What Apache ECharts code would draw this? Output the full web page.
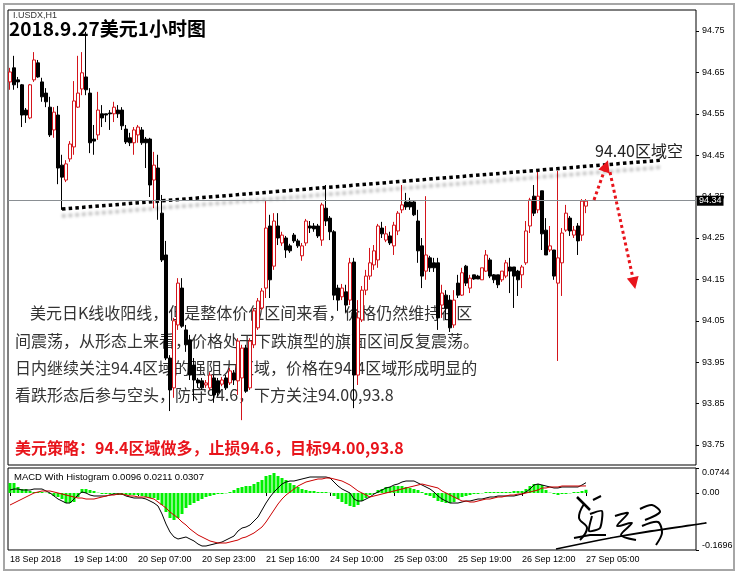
<!DOCTYPE html>
<html>
<head>
<meta charset="utf-8">
<script src="https://cdn.jsdelivr.net/npm/echarts@6/dist/echarts.min.js"></script>
<style>
  html, body { margin: 0; padding: 0; background: #fff; }
  #chart { width: 742px; height: 578px; }
</style>
</head>
<body>
<div id="chart"></div>
<script>
// 时间轴刻度（每16根K线一个）
const tickLabels = ['18 Sep 2018', '19 Sep 14:00', '20 Sep 07:00', '20 Sep 23:00', '21 Sep 16:00',
  '24 Sep 10:00', '25 Sep 03:00', '25 Sep 19:00', '26 Sep 12:00', '27 Sep 05:00'];
const slotCount = 172;

// 小时K线 开 收 低 高
const opens = [
  94.627, 94.661, 94.632, 94.620, 94.559, 94.540, 94.632, 94.673, 94.627, 94.600,
  94.566, 94.511, 94.547, 94.426, 94.390, 94.441, 94.470, 94.566, 94.610, 94.639,
  94.600, 94.489, 94.499, 94.550, 94.550, 94.552, 94.550, 94.559, 94.559, 94.513,
  94.492, 94.480, 94.499, 94.511, 94.489, 94.489, 94.390, 94.419, 94.310, 94.209,
  93.960, 93.888, 94.040, 94.129, 94.028, 94.004, 93.943, 93.907, 93.905, 93.895,
  93.888, 93.912, 93.905, 93.897, 93.912, 93.900, 93.924, 93.905, 93.912, 93.984,
  93.888, 93.992, 94.033, 94.081, 94.129, 94.279, 94.182, 94.279, 94.238, 94.250,
  94.231, 94.257, 94.243, 94.207, 94.238, 94.279, 94.279, 94.279, 94.245, 94.322,
  94.298, 94.265, 94.129, 94.108, 94.120, 94.100, 94.192, 93.919, 94.052, 94.124,
  94.158, 94.185, 94.197, 94.274, 94.245, 94.255, 94.231, 94.267, 94.318, 94.337,
  94.337, 94.337, 94.291, 94.231, 94.170, 94.202, 94.190, 94.190, 94.088, 94.112,
  94.100, 94.040, 94.141, 94.112, 94.182, 94.129, 94.161, 94.158, 94.149, 94.170,
  94.197, 94.161, 94.161, 94.149, 94.158, 94.180, 94.180, 94.170, 94.161, 94.190,
  94.279, 94.351, 94.318, 94.364, 94.269, 94.221, 94.221, 94.141, 94.190, 94.269,
  94.298, 94.257, 94.279, 94.257, 94.327
];
const closes = [
  94.651, 94.620, 94.627, 94.547, 94.547, 94.620, 94.680, 94.639, 94.591, 94.579,
  94.499, 94.554, 94.419, 94.397, 94.429, 94.477, 94.581, 94.600, 94.649, 94.608,
  94.480, 94.484, 94.559, 94.540, 94.547, 94.550, 94.566, 94.550, 94.521, 94.482,
  94.480, 94.511, 94.518, 94.480, 94.480, 94.378, 94.426, 94.342, 94.197, 93.960,
  93.883, 94.050, 94.141, 94.037, 93.992, 93.919, 93.907, 93.900, 93.888, 93.900,
  93.919, 93.871, 93.876, 93.907, 93.888, 93.929, 93.907, 94.001, 93.984, 93.880,
  94.001, 94.074, 94.098, 94.122, 94.274, 94.149, 94.291, 94.250, 94.257, 94.221,
  94.219, 94.243, 94.231, 94.231, 94.291, 94.274, 94.272, 94.255, 94.330, 94.291,
  94.265, 94.112, 94.100, 94.129, 94.088, 94.190, 93.919, 94.057, 94.124, 94.158,
  94.190, 94.219, 94.279, 94.260, 94.260, 94.238, 94.281, 94.310, 94.330, 94.325,
  94.325, 94.306, 94.219, 94.158, 94.209, 94.178, 94.178, 94.057, 94.117, 94.081,
  94.033, 94.100, 94.112, 94.166, 94.141, 94.153, 94.151, 94.151, 94.178, 94.209,
  94.158, 94.149, 94.137, 94.170, 94.190, 94.170, 94.158, 94.149, 94.180, 94.267,
  94.342, 94.310, 94.351, 94.260, 94.209, 94.231, 94.158, 94.202, 94.262, 94.310,
  94.267, 94.269, 94.243, 94.339, 94.339
];
const lows = [
  94.608, 94.608, 94.612, 94.518, 94.528, 94.537, 94.627, 94.637, 94.579, 94.566,
  94.494, 94.492, 94.380, 94.318, 94.385, 94.434, 94.451, 94.564, 94.595, 94.595,
  94.455, 94.451, 94.487, 94.518, 94.530, 94.511, 94.530, 94.540, 94.511, 94.477,
  94.472, 94.451, 94.480, 94.475, 94.419, 94.349, 94.322, 94.294, 94.192, 93.955,
  93.832, 93.864, 94.028, 94.033, 93.975, 93.907, 93.856, 93.888, 93.883, 93.888,
  93.883, 93.852, 93.868, 93.892, 93.883, 93.895, 93.895, 93.871, 93.810, 93.876,
  93.883, 93.984, 94.028, 94.076, 94.105, 94.105, 94.173, 94.233, 94.231, 94.202,
  94.214, 94.238, 94.226, 94.195, 94.231, 94.262, 94.265, 94.250, 94.231, 94.279,
  94.245, 94.100, 94.074, 94.100, 94.071, 94.088, 93.839, 93.895, 94.047, 94.112,
  94.149, 94.173, 94.178, 94.250, 94.240, 94.233, 94.209, 94.257, 94.310, 94.318,
  94.318, 94.303, 94.190, 94.129, 94.149, 94.168, 94.168, 94.028, 94.057, 94.052,
  94.023, 94.033, 94.105, 94.110, 94.134, 94.117, 94.149, 94.151, 94.149, 94.168,
  94.153, 94.141, 94.129, 94.144, 94.153, 94.117, 94.081, 94.110, 94.129, 94.185,
  94.262, 94.303, 94.310, 94.221, 94.209, 94.216, 94.149, 93.953, 94.110, 94.265,
  94.255, 94.250, 94.209, 94.243, 94.310
];
const highs = [
  94.661, 94.690, 94.639, 94.622, 94.564, 94.622, 94.699, 94.680, 94.637, 94.612,
  94.591, 94.566, 94.569, 94.451, 94.438, 94.484, 94.629, 94.690, 94.699, 94.748,
  94.612, 94.523, 94.603, 94.571, 94.550, 94.559, 94.579, 94.571, 94.566, 94.523,
  94.504, 94.518, 94.523, 94.518, 94.494, 94.492, 94.458, 94.451, 94.354, 94.243,
  93.967, 94.057, 94.153, 94.153, 94.040, 94.016, 93.960, 93.912, 93.912, 93.907,
  93.926, 93.919, 93.912, 93.914, 93.919, 93.936, 93.931, 94.008, 93.992, 93.992,
  94.008, 94.081, 94.105, 94.129, 94.339, 94.306, 94.310, 94.310, 94.265, 94.255,
  94.236, 94.262, 94.248, 94.238, 94.296, 94.291, 94.286, 94.284, 94.335, 94.378,
  94.303, 94.269, 94.137, 94.139, 94.137, 94.202, 94.202, 94.100, 94.134, 94.173,
  94.226, 94.233, 94.284, 94.289, 94.279, 94.265, 94.289, 94.315, 94.378, 94.359,
  94.347, 94.339, 94.318, 94.250, 94.351, 94.207, 94.202, 94.202, 94.137, 94.124,
  94.112, 94.124, 94.161, 94.178, 94.185, 94.161, 94.161, 94.161, 94.178, 94.221,
  94.202, 94.163, 94.161, 94.170, 94.197, 94.202, 94.180, 94.173, 94.185, 94.291,
  94.347, 94.378, 94.412, 94.364, 94.298, 94.279, 94.221, 94.412, 94.274, 94.330,
  94.303, 94.279, 94.286, 94.344, 94.344
];

// MACD 副图
const macdLine = [
  0.0089, 0.0119, 0.0119, 0.0089, 0.0089, 0.0089, 0.0119, 0.0119, 0.0119, 0.0060,
  0.0000, -0.0089, -0.0179, -0.0238, -0.0298, -0.0298, -0.0179, -0.0060, 0.0030, 0.0000,
  -0.0060, -0.0089, -0.0089, -0.0089, -0.0089, -0.0060, -0.0030, -0.0030, -0.0030, -0.0089,
  -0.0119, -0.0149, -0.0149, -0.0149, -0.0179, -0.0238, -0.0298, -0.0387, -0.0625, -0.0923,
  -0.1161, -0.1309, -0.1369, -0.1339, -0.1309, -0.1369, -0.1428, -0.1518, -0.1577, -0.1577,
  -0.1547, -0.1518, -0.1488, -0.1458, -0.1399, -0.1339, -0.1280, -0.1131, -0.1042, -0.1012,
  -0.0952, -0.0833, -0.0714, -0.0506, -0.0298, -0.0119, 0.0030, 0.0149, 0.0268, 0.0327,
  0.0357, 0.0357, 0.0387, 0.0417, 0.0446, 0.0476, 0.0476, 0.0476, 0.0476, 0.0476,
  0.0446, 0.0327, 0.0208, 0.0119, 0.0060, 0.0000, -0.0179, -0.0238, -0.0238, -0.0179,
  -0.0119, -0.0030, 0.0030, 0.0089, 0.0149, 0.0179, 0.0238, 0.0268, 0.0327, 0.0357,
  0.0357, 0.0357, 0.0298, 0.0238, 0.0179, 0.0119, 0.0030, -0.0089, -0.0179, -0.0238,
  -0.0298, -0.0298, -0.0298, -0.0268, -0.0238, -0.0238, -0.0208, -0.0179, -0.0179, -0.0149,
  -0.0119, -0.0119, -0.0089, -0.0089, -0.0089, -0.0089, -0.0089, -0.0060, -0.0030, 0.0030,
  0.0119, 0.0238, 0.0268, 0.0238, 0.0208, 0.0179, 0.0149, 0.0149, 0.0179, 0.0179,
  0.0179, 0.0179, 0.0179, 0.0238, 0.0307
];
const signalLine = [
  -0.0357, -0.0298, -0.0238, -0.0179, -0.0119, -0.0060, 0.0000, 0.0030, 0.0060, 0.0060,
  0.0060, 0.0030, 0.0000, -0.0030, -0.0060, -0.0089, -0.0119, -0.0149, -0.0149, -0.0179,
  -0.0179, -0.0179, -0.0149, -0.0119, -0.0089, -0.0060, -0.0060, -0.0030, -0.0030, -0.0060,
  -0.0089, -0.0089, -0.0119, -0.0119, -0.0119, -0.0149, -0.0179, -0.0268, -0.0357, -0.0446,
  -0.0565, -0.0655, -0.0744, -0.0863, -0.0952, -0.1071, -0.1161, -0.1250, -0.1309, -0.1369,
  -0.1428, -0.1458, -0.1488, -0.1488, -0.1488, -0.1458, -0.1428, -0.1399, -0.1339, -0.1309,
  -0.1250, -0.1190, -0.1101, -0.1012, -0.0863, -0.0684, -0.0506, -0.0327, -0.0179, -0.0060,
  0.0030, 0.0119, 0.0208, 0.0268, 0.0327, 0.0357, 0.0387, 0.0417, 0.0417, 0.0446,
  0.0446, 0.0417, 0.0387, 0.0357, 0.0298, 0.0238, 0.0149, 0.0060, 0.0000, -0.0060,
  -0.0119, -0.0089, -0.0060, -0.0030, 0.0000, 0.0030, 0.0060, 0.0089, 0.0119, 0.0149,
  0.0179, 0.0208, 0.0238, 0.0268, 0.0238, 0.0208, 0.0179, 0.0149, 0.0060, 0.0000,
  -0.0060, -0.0119, -0.0179, -0.0238, -0.0238, -0.0268, -0.0268, -0.0238, -0.0208, -0.0179,
  -0.0179, -0.0149, -0.0119, -0.0119, -0.0089, -0.0060, -0.0060, -0.0030, -0.0030, 0.0000,
  0.0030, 0.0060, 0.0089, 0.0149, 0.0149, 0.0179, 0.0179, 0.0179, 0.0208, 0.0208,
  0.0208, 0.0208, 0.0208, 0.0208, 0.0211
];
const histogram = [
  0.0298, 0.0298, 0.0179, 0.0119, 0.0119, 0.0060, 0.0030, 0.0030, 0.0030, 0.0010,
  -0.0030, -0.0089, -0.0119, -0.0179, -0.0298, -0.0298, -0.0268, -0.0119, 0.0119, 0.0119,
  0.0089, 0.0060, 0.0010, -0.0030, -0.0030, -0.0030, -0.0030, -0.0060, -0.0060, -0.0060,
  -0.0060, -0.0060, -0.0060, -0.0089, -0.0119, -0.0149, -0.0149, -0.0208, -0.0357, -0.0565,
  -0.0744, -0.0804, -0.0744, -0.0625, -0.0446, -0.0357, -0.0298, -0.0238, -0.0179, -0.0119,
  -0.0089, -0.0060, -0.0030, -0.0030, -0.0010, 0.0030, 0.0089, 0.0149, 0.0179, 0.0208,
  0.0208, 0.0268, 0.0327, 0.0387, 0.0506, 0.0536, 0.0595, 0.0506, 0.0446, 0.0387,
  0.0298, 0.0238, 0.0179, 0.0119, 0.0089, 0.0060, 0.0060, 0.0030, 0.0030, 0.0030,
  0.0010, -0.0089, -0.0179, -0.0268, -0.0327, -0.0387, -0.0417, -0.0357, -0.0238, -0.0149,
  -0.0060, -0.0030, 0.0089, 0.0119, 0.0179, 0.0179, 0.0208, 0.0208, 0.0208, 0.0179,
  0.0149, 0.0119, 0.0089, 0.0030, -0.0060, -0.0089, -0.0149, -0.0238, -0.0268, -0.0298,
  -0.0298, -0.0268, -0.0179, -0.0119, -0.0089, -0.0060, -0.0030, -0.0030, -0.0010, 0.0030,
  0.0030, 0.0030, 0.0030, 0.0030, 0.0030, 0.0030, 0.0060, 0.0060, 0.0060, 0.0119,
  0.0208, 0.0268, 0.0268, 0.0238, 0.0089, 0.0010, -0.0030, -0.0060, -0.0030, -0.0030,
  -0.0010, 0.0030, 0.0030, 0.0060, 0.0096
];

const priceTicks = [93.75, 93.85, 93.95, 94.05, 94.15, 94.25, 94.35, 94.45, 94.55, 94.65, 94.75];
const lastPrice = 94.34;
const macdTicks = [-0.1696, 0, 0.0744];

// 趋势线与箭头（K线序号, 价格）
const trendLine = [[13, 94.320], [163, 94.438]];
const arrowUp = [[146, 94.342], [149, 94.424]];
const arrowDown = [[150, 94.409], [156, 94.141]];

const categories = Array.from({ length: slotCount }, (_, i) => String(i));
const showTick = (idx) => idx % 16 === 0 && idx / 16 < tickLabels.length;
const candles = opens.map((o, i) => [o, closes[i], lows[i], highs[i]]);

const axisFont = 'Liberation Sans';
const cjk = '"Noto Sans CJK SC"';

const myChart = echarts.init(document.getElementById('chart'));
const option = {
  animation: false,
  backgroundColor: '#fff',
  grid: [
    { left: 8, top: 10, width: 688, height: 455, show: true, borderColor: '#000', borderWidth: 1, outerBoundsMode: 'none' },
    { left: 8, top: 468, width: 688, height: 82, show: true, borderColor: '#000', borderWidth: 1, outerBoundsMode: 'none' }
  ],
  xAxis: [
    {
      type: 'category', gridIndex: 0, data: categories, boundaryGap: true,
      axisLine: { show: false }, axisTick: { show: false }, axisLabel: { show: false }, splitLine: { show: false }
    },
    {
      type: 'category', gridIndex: 1, data: categories, boundaryGap: true,
      axisLine: { show: false },
      axisTick: { show: true, alignWithLabel: true, interval: showTick, length: 3, lineStyle: { color: '#000' } },
      axisLabel: {
        interval: showTick, align: 'left', margin: 5, fontSize: 9, color: '#000', fontFamily: axisFont,
        formatter: (v, idx) => tickLabels[idx / 16]
      },
      splitLine: { show: false }
    }
  ],
  yAxis: [
    {
      type: 'value', gridIndex: 0, position: 'right', min: 93.7017, max: 94.8007, scale: true,
      splitLine: { show: false }, axisLine: { show: false },
      axisTick: { show: true, customValues: priceTicks, length: 3, lineStyle: { color: '#000' } },
      axisLabel: { customValues: priceTicks, formatter: (v) => v.toFixed(2), fontSize: 9, color: '#000', margin: 6, fontFamily: axisFont }
    },
    {
      type: 'value', gridIndex: 1, position: 'right', min: -0.1696, max: 0.0744,
      splitLine: { show: false }, axisLine: { show: false },
      axisTick: { show: true, customValues: macdTicks, length: 3, lineStyle: { color: '#000' } },
      axisLabel: {
        customValues: macdTicks, fontSize: 9, color: '#000', margin: 6, fontFamily: axisFont,
        formatter: (v) => (v === 0 ? '0.00' : v.toFixed(4)),
        verticalAlignMaxLabel: 'top', verticalAlignMinLabel: 'bottom'
      }
    }
  ],
  series: [
    {
      type: 'candlestick', xAxisIndex: 0, yAxisIndex: 0, data: candles, barWidth: 3,
      itemStyle: { color: '#fff', color0: '#000', borderColor: '#d4141b', borderColor0: '#000', borderWidth: 1 },
      markLine: {
        silent: true, symbol: 'none', animation: false,
        data: [{ yAxis: lastPrice }],
        lineStyle: { color: '#8a8f93', width: 1, type: 'solid' },
        label: {
          position: 'end', distance: 1, formatter: lastPrice.toFixed(2),
          backgroundColor: '#000', color: '#fff', fontSize: 9, fontFamily: axisFont, padding: [1, 2, 0, 2]
        }
      }
    },
    {
      type: 'line', xAxisIndex: 0, yAxisIndex: 0, data: trendLine, symbol: 'none', silent: true,
      lineStyle: {
        color: '#000', width: 3.5, type: [3.5, 3.2], cap: 'butt',
        shadowColor: 'rgba(0,0,0,0.28)', shadowBlur: 3, shadowOffsetY: 7
      },
      markLine: {
        silent: true, animation: false, symbol: ['none', 'triangle'], symbolSize: 12,
        lineStyle: { color: '#e8141b', width: 3, type: [3, 3], cap: 'butt' },
        itemStyle: { color: '#e8141b' },
        label: { show: false },
        data: [
          [{ coord: arrowUp[0] }, { coord: arrowUp[1] }],
          [{ coord: arrowDown[0] }, { coord: arrowDown[1] }]
        ]
      }
    },
    {
      type: 'bar', xAxisIndex: 1, yAxisIndex: 1, data: histogram, barWidth: 3,
      itemStyle: { color: '#00f000' }
    },
    {
      type: 'line', xAxisIndex: 1, yAxisIndex: 1, data: macdLine, symbol: 'none',
      lineStyle: { color: '#000', width: 1 }
    },
    {
      type: 'line', xAxisIndex: 1, yAxisIndex: 1, data: signalLine, symbol: 'none',
      lineStyle: { color: '#cc0000', width: 1 }
    }
  ],
  graphic: {
    elements: [
      { type: 'rect', shape: { x: 4, y: 4, width: 730, height: 566 }, style: { fill: 'none', stroke: '#a6a6a6', lineWidth: 2 }, silent: true },
      { type: 'text', x: 13, y: 16, style: { text: 'I.USDX,H1', fontSize: 9, fontFamily: axisFont, fill: '#333', verticalAlign: 'middle' } },
      { type: 'text', x: 9, y: 29, style: { text: '2018.9.27美元1小时图', fontSize: 19, fontWeight: 'bold', fontFamily: cjk, fill: '#000', verticalAlign: 'middle' } },
      { type: 'text', x: 595, y: 151, style: { text: '94.40区域空', fontSize: 16, fontFamily: cjk, fill: '#222', verticalAlign: 'middle' } },
      { type: 'text', x: 30, y: 313, style: { text: '美元日K线收阳线，但是整体价位区间来看，价格仍然维持在区', fontSize: 16, fontFamily: cjk, fill: '#333', verticalAlign: 'middle' } },
      { type: 'text', x: 15, y: 341, style: { text: '间震荡，从形态上来看，价格处于下跌旗型的旗面区间反复震荡。', fontSize: 16, fontFamily: cjk, fill: '#333', verticalAlign: 'middle' } },
      { type: 'text', x: 15, y: 368, style: { text: '日内继续关注94.4区域的强阻力区域，价格在94.4区域形成明显的', fontSize: 16, fontFamily: cjk, fill: '#333', verticalAlign: 'middle' } },
      { type: 'text', x: 15, y: 395, style: { text: '看跌形态后参与空头，防守94.6，下方关注94.00,93.8', fontSize: 16, fontFamily: cjk, fill: '#333', verticalAlign: 'middle' } },
      { type: 'text', x: 15, y: 448, style: { text: '美元策略：94.4区域做多，止损94.6，目标94.00,93.8', fontSize: 16, fontWeight: 'bold', fontFamily: cjk, fill: '#e8141b', verticalAlign: 'middle' } },
      { type: 'text', x: 14, y: 477, style: { text: 'MACD With Histogram 0.0096 0.0211 0.0307', fontSize: 9.5, fontFamily: axisFont, fill: '#000', verticalAlign: 'middle' } },
      // 签名（手写）
      { type: 'polyline', shape: { points: [[556, 549], [600, 540], [650, 531], [706, 523], [660, 530], [610, 538]], smooth: 0.2 }, style: { stroke: '#000', lineWidth: 1.5, fill: null } },
      { type: 'polyline', shape: { points: [[577, 497], [585, 505], [590, 510]] }, style: { stroke: '#000', lineWidth: 2.5, fill: null } },
      { type: 'polyline', shape: { points: [[584, 504], [579, 518], [587, 528], [580, 540]], smooth: 0.4 }, style: { stroke: '#000', lineWidth: 2, fill: null } },
      { type: 'polyline', shape: { points: [[590, 514], [602, 511], [600, 528], [589, 531], [592, 516]], smooth: 0.2 }, style: { stroke: '#000', lineWidth: 2, fill: null } },
      { type: 'polyline', shape: { points: [[574, 538], [590, 535], [606, 535]] }, style: { stroke: '#000', lineWidth: 2, fill: null } },
      { type: 'polyline', shape: { points: [[593, 500], [601, 496]] }, style: { stroke: '#000', lineWidth: 2, fill: null } },
      { type: 'polyline', shape: { points: [[615, 516], [628, 513], [617, 526], [632, 523], [621, 535], [636, 540]], smooth: 0.3 }, style: { stroke: '#000', lineWidth: 2, fill: null } },
      { type: 'polyline', shape: { points: [[640, 509], [652, 505], [660, 512], [645, 520]], smooth: 0.3 }, style: { stroke: '#000', lineWidth: 2, fill: null } },
      { type: 'polyline', shape: { points: [[642, 526], [658, 522], [662, 533], [656, 545]], smooth: 0.3 }, style: { stroke: '#000', lineWidth: 2, fill: null } }
    ]
  }
};
myChart.setOption(option, true);
window.addEventListener('resize', () => {
  myChart.resize();
});
</script>
</body>
</html>
